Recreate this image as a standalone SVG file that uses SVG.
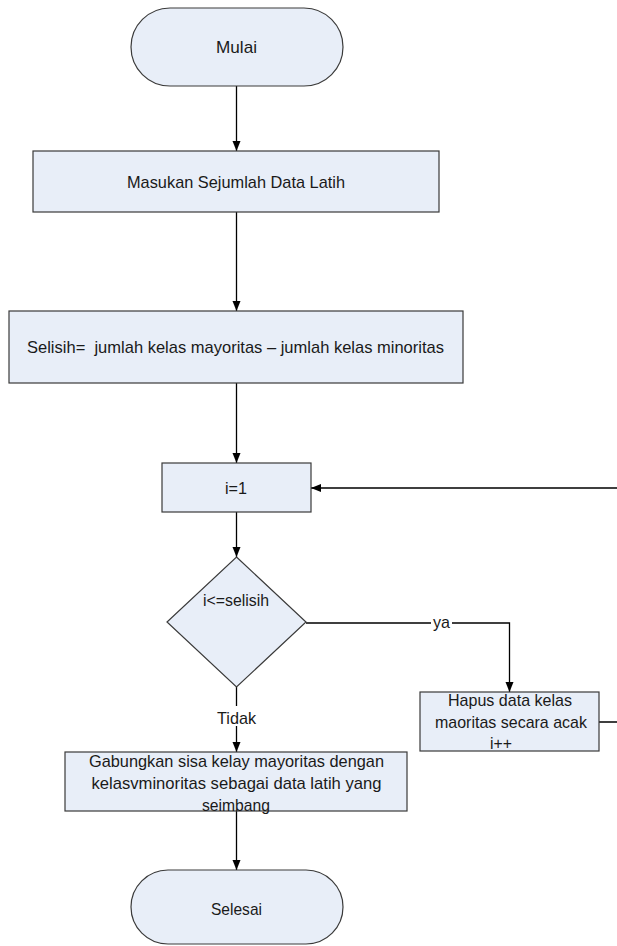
<svg xmlns="http://www.w3.org/2000/svg" width="617" height="946" viewBox="0 0 617 946">
<style>
.shape{fill:#E8EEF8;stroke:#3a3a3a;stroke-width:1.2}
.conn{fill:none;stroke:#000;stroke-width:1.3}
text{font-family:"Liberation Sans",Arial,sans-serif;font-size:17px;fill:#1a1a1a;text-anchor:middle}
.lbl{fill:#fff}
</style>
<defs>
<marker id="arr" viewBox="0 0 10 10" refX="10" refY="5" markerWidth="10" markerHeight="10" markerUnits="userSpaceOnUse" orient="auto">
<path d="M0,1 L10,5 L0,9 Z" fill="#000"/>
</marker>
</defs>
<rect width="617" height="946" fill="#fff"/>
<g id="connectors">
<path class="conn" d="M236.5,86 V151" marker-end="url(#arr)"/>
<path class="conn" d="M236.5,212 V311" marker-end="url(#arr)"/>
<path class="conn" d="M236.5,383 V463" marker-end="url(#arr)"/>
<path class="conn" d="M236.5,512 V557" marker-end="url(#arr)"/>
<path class="conn" d="M306,623 H509.5 V692" marker-end="url(#arr)"/>
<path class="conn" d="M599,722 H640 V488 H311" marker-end="url(#arr)"/>
<path class="conn" d="M236.5,687 V752" marker-end="url(#arr)"/>
<path class="conn" d="M236.5,811 V870" marker-end="url(#arr)"/>
<rect class="lbl" x="431" y="615" width="21" height="16"/>
<text x="441.5" y="628" textLength="17" lengthAdjust="spacingAndGlyphs">ya</text>
<rect class="lbl" x="215" y="706" width="43" height="20"/>
<text x="236.5" y="724" textLength="39" lengthAdjust="spacingAndGlyphs">Tidak</text>
</g>
<g id="mulai">
<rect class="shape" x="131" y="8" width="212" height="78" rx="39" ry="39"/>
<text x="236.5" y="53" textLength="41" lengthAdjust="spacingAndGlyphs">Mulai</text>
</g>
<g id="masukan">
<rect class="shape" x="33" y="151" width="406" height="61"/>
<text x="236" y="188" textLength="218" lengthAdjust="spacingAndGlyphs">Masukan Sejumlah Data Latih</text>
</g>
<g id="selisih">
<rect class="shape" x="9" y="311" width="454" height="72"/>
<text x="235.5" y="353" xml:space="preserve" textLength="417" lengthAdjust="spacingAndGlyphs">Selisih=  jumlah kelas mayoritas – jumlah kelas minoritas</text>
</g>
<g id="init">
<rect class="shape" x="162" y="463" width="149" height="49"/>
<text x="236" y="494" textLength="22" lengthAdjust="spacingAndGlyphs">i=1</text>
</g>
<g id="kondisi">
<polygon class="shape" points="236.5,557 306,622 236.5,687 167,622"/>
<text x="236" y="606" textLength="66" lengthAdjust="spacingAndGlyphs">i&lt;=selisih</text>
</g>
<g id="hapus">
<rect class="shape" x="420" y="692" width="179" height="59"/>
<text x="510" y="706" textLength="124" lengthAdjust="spacingAndGlyphs">Hapus data kelas</text>
<text x="511" y="728" textLength="152" lengthAdjust="spacingAndGlyphs">maoritas secara acak</text>
<text x="501" y="749" textLength="22" lengthAdjust="spacingAndGlyphs">i++</text>
</g>
<g id="gabungkan">
<rect class="shape" x="65" y="752" width="342" height="59"/>
<text x="236.5" y="767" textLength="295" lengthAdjust="spacingAndGlyphs">Gabungkan sisa kelay mayoritas dengan</text>
<text x="236.5" y="789" textLength="290" lengthAdjust="spacingAndGlyphs">kelasvminoritas sebagai data latih yang</text>
<text x="236" y="811" textLength="68" lengthAdjust="spacingAndGlyphs">seimbang</text>
</g>
<g id="selesai">
<rect class="shape" x="131" y="870" width="212" height="74" rx="37" ry="37"/>
<text x="236.5" y="915" textLength="51" lengthAdjust="spacingAndGlyphs">Selesai</text>
</g>
</svg>
